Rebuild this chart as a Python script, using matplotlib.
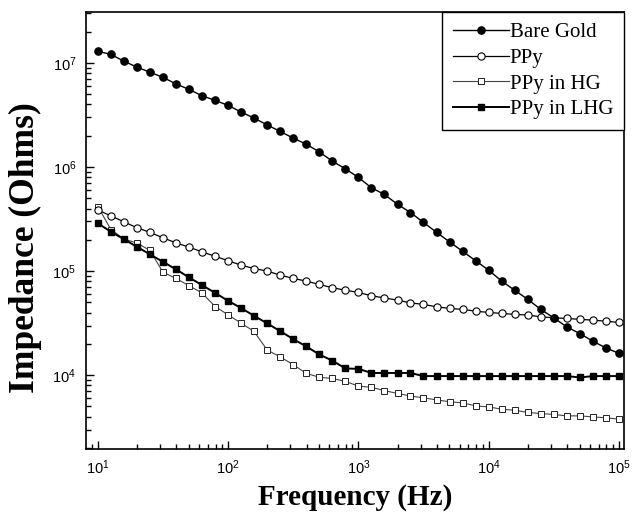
"""
Impedance vs frequency for bare gold and PPy electrodes (log-log)
Output: out.png
"""
import matplotlib
matplotlib.use('Agg')
import matplotlib.pyplot as plt
from matplotlib.ticker import LogLocator, NullFormatter

plt.rcParams['font.family'] = ['Liberation Serif', 'DejaVu Serif']

# ── data ───────────────────────────────────────────────────────────────── #
freq = [10, 12.6, 15.8, 20.0, 25.1, 31.6, 39.8, 50.1, 63.1, 79.4,
        100, 126, 158, 200, 251, 316, 398, 501, 631, 794,
        1000, 1260, 1580, 2000, 2510, 3160, 3980, 5010, 6310, 7940,
        10000, 12600, 15800, 20000, 25100, 31600, 39800, 50100, 63100, 79400,
        100000]

bare_gold = [1.30e7, 1.21e7, 1.045e7, 9.12e6, 8.18e6, 7.28e6, 6.31e6, 5.58e6, 4.85e6, 4.38e6,
             3.92e6, 3.38e6, 2.96e6, 2.54e6, 2.20e6, 1.90e6, 1.66e6, 1.40e6, 1.14e6, 9.64e5,
             7.96e5, 6.32e5, 5.47e5, 4.38e5, 3.66e5, 2.94e5, 2.36e5, 1.91e5, 1.55e5, 1.26e5,
             1.02e5, 8.02e4, 6.56e4, 5.35e4, 4.29e4, 3.56e4, 2.91e4, 2.51e4, 2.12e4, 1.83e4,
             1.62e4]

ppy = [3.86e5, 3.40e5, 2.98e5, 2.61e5, 2.36e5, 2.09e5, 1.87e5, 1.70e5, 1.53e5, 1.39e5,
       1.26e5, 1.14e5, 1.06e5, 1.00e5, 9.16e4, 8.51e4, 8.02e4, 7.45e4, 6.92e4, 6.56e4,
       6.24e4, 5.79e4, 5.53e4, 5.26e4, 4.95e4, 4.79e4, 4.54e4, 4.38e4, 4.29e4, 4.12e4,
       4.01e4, 3.92e4, 3.84e4, 3.78e4, 3.64e4, 3.56e4, 3.51e4, 3.44e4, 3.38e4, 3.30e4,
       3.21e4]

ppy_hg = [4.17e5, 2.51e5, 2.04e5, 1.86e5, 1.58e5, 9.77e4, 8.51e4, 7.24e4, 6.17e4, 4.57e4,
          3.80e4, 3.16e4, 2.63e4, 1.74e4, 1.50e4, 1.26e4, 1.04e4, 9.55e3, 9.29e3, 8.71e3,
          7.85e3, 7.64e3, 7.11e3, 6.67e3, 6.31e3, 6.05e3, 5.79e3, 5.55e3, 5.42e3, 5.07e3,
          4.95e3, 4.71e3, 4.60e3, 4.38e3, 4.28e3, 4.19e3, 4.06e3, 4.06e3, 3.97e3, 3.89e3,
          3.78e3]

ppy_lhg = [2.88e5, 2.39e5, 2.03e5, 1.71e5, 1.45e5, 1.23e5, 1.04e5, 8.71e4, 7.33e4, 6.18e4,
           5.18e4, 4.41e4, 3.72e4, 3.14e4, 2.65e4, 2.22e4, 1.89e4, 1.58e4, 1.38e4, 1.16e4,
           1.15e4, 1.05e4, 1.05e4, 1.05e4, 1.05e4, 9.8e3, 9.8e3, 9.8e3, 9.8e3, 9.8e3,
           9.8e3, 9.8e3, 9.8e3, 9.8e3, 9.8e3, 9.8e3, 9.8e3, 9.5e3, 9.8e3, 9.8e3,
           9.8e3]

# ── plot ───────────────────────────────────────────────────────────────── #
fig = plt.figure(figsize=(6.32, 5.2), dpi=100)
ax = fig.add_axes([0.136, 0.1365, 0.851, 0.8405])

ax.plot(freq, ppy_hg, color='#444444', lw=0.8, marker='s', ms=4.6,
        mfc='white', mec='#222222', mew=0.7, label='PPy in HG', zorder=2)
ax.plot(freq, ppy_lhg, color='black', lw=1.4, marker='s', ms=4.6,
        mfc='black', mec='black', label='PPy in LHG', zorder=3)
ax.plot(freq, ppy, color='black', lw=0.9, marker='o', ms=5.2,
        mfc='white', mec='black', mew=0.8, label='PPy', zorder=3)
ax.plot(freq, bare_gold, color='black', lw=1.0, marker='o', ms=5.2,
        mfc='black', mec='black', label='Bare Gold', zorder=4)

ax.set_xscale('log')
ax.set_yscale('log')
ax.set_xlim(8.1, 1.09e5)
ax.set_ylim(1.95e3, 3.1e7)

ax.xaxis.set_major_locator(LogLocator(base=10, numticks=10))
ax.yaxis.set_major_locator(LogLocator(base=10, numticks=10))
ax.xaxis.set_minor_locator(LogLocator(base=10, subs=range(2, 10), numticks=20))
ax.yaxis.set_minor_locator(LogLocator(base=10, subs=range(2, 10), numticks=20))
ax.xaxis.set_minor_formatter(NullFormatter())
ax.yaxis.set_minor_formatter(NullFormatter())

ax.tick_params(which='both', direction='in', top=False, right=False,
               labelsize=10.5, width=1, pad=7, labelfontfamily='Liberation Sans')
ax.tick_params(which='major', length=6)
ax.tick_params(which='minor', length=3.5)
for sp in ax.spines.values():
    sp.set_linewidth(1.2)

ax.set_xlabel('Frequency (Hz)', fontsize=21, fontweight='bold')
ax.set_ylabel('Impedance (Ohms)', fontsize=25.5, fontweight='bold')
ax.xaxis.set_label_coords(0.5, -0.08)
ax.yaxis.set_label_coords(-0.081, 0.46)

# legend in the drawing order of the original
h, l = ax.get_legend_handles_labels()
order = [3, 2, 0, 1]
leg = ax.legend([h[k] for k in order], [l[k] for k in order],
                loc='upper right', bbox_to_anchor=(1.0, 1.0), borderaxespad=0,
                fontsize=15, fancybox=False, edgecolor='black', framealpha=1,
                handlelength=2.7, handletextpad=0.05, labelspacing=0.3,
                borderpad=0.5)
leg.get_frame().set_linewidth(1.0)

fig.savefig('out.png', dpi=100)
